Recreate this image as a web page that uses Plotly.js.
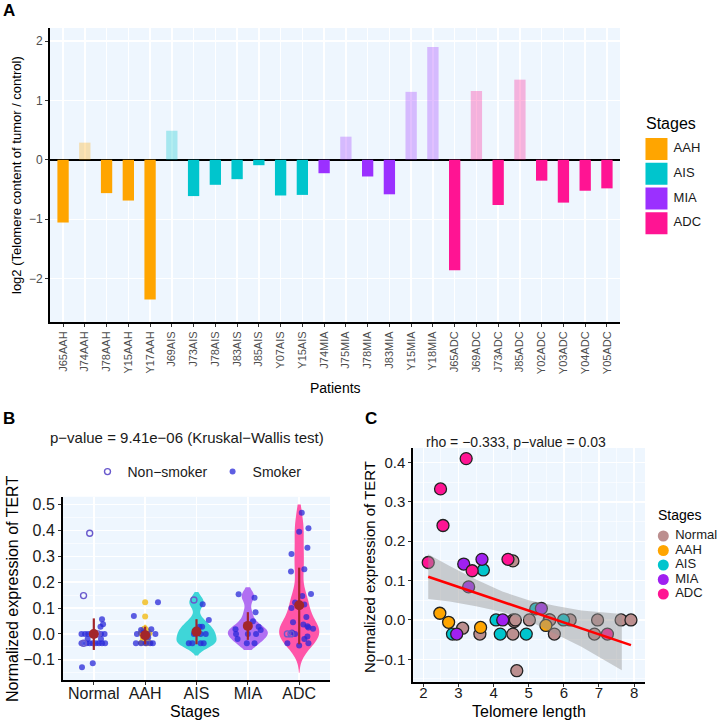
<!DOCTYPE html>
<html>
<head>
<meta charset="utf-8">
<script src="https://cdn.plot.ly/plotly-3.0.1.min.js"></script>
<style>
  body { margin: 0; background: #fff; }
  #plot { width: 720px; height: 724px; }
</style>
</head>
<body>
<div id="plot"></div>
<script>
// ---- Panel A: telomere content per patient ----
const patients = ['J65AAH','J74AAH','J78AAH','Y15AAH','Y17AAH','J69AIS','J73AIS','J78AIS','J83AIS','J85AIS',
  'Y07AIS','Y15AIS','J74MIA','J75MIA','J78MIA','J83MIA','Y15MIA','Y18MIA','J65ADC','J69ADC','J73ADC','J85ADC',
  'Y02ADC','Y03ADC','Y04ADC','Y05ADC'];
const log2Ratio = [-1.055, 0.29, -0.56, -0.685, -2.35, 0.49, -0.61, -0.42, -0.325, -0.09,
  -0.60, -0.59, -0.225, 0.39, -0.28, -0.58, 1.145, 1.90, -1.86, 1.16, -0.76, 1.35,
  -0.35, -0.72, -0.52, -0.48];
const stagesA = ['AAH', 'AIS', 'MIA', 'ADC'];

// ---- Panel B: TERT expression per stage (stage index, jitter, value, smoker/non-smoker/other) ----
const stagesB = ['Normal', 'AAH', 'AIS', 'MIA', 'ADC'];
const bStage = [0,0,0,0, 0,0,0,0,0, 0,0,0,0,0,0,0, 0,0,0,0,0,0,0,0, 0,0,
  1,1,1,1,1,1,1,1,1,1,1,1,1,1, 1,1,1,1,1,1,
  2,2,2,2,2,2,2,2,2,2,2,2,
  3,3,3,3,3,3,3,3,3,3,3,3,3,
  4,4,4,4,4,4,4,4,4,4,4,4,4,4,4,4,4,4,4,4,4,4,4,4,4,4,4,4,4];
const bJitter = [-0.08,-0.2,0.08,-0.2, 0.16,0.18,0.13,-0.23,-0.02, -0.24,-0.17,-0.11,-0.05,0.02,0.14,0.21,
  -0.24,-0.14,-0.08,-0.02,0.04,0.1,0.16,0.22, -0.12,0.14,
  0.25,-0.22,0.12,-0.08,-0.16,0.2,0.05,0.06,-0.18,-0.08,0.01,0.1,0.15,-0.03, 0,0,-0.02,0.02,-0.04,0.03,
  -0.05,0.12,0.24,0.06,0.11,0.08,0.18,-0.15,-0.08,0.08,0.14,-0.05,
  -0.18,0.13,0.15,0.1,0.21,0.25,-0.24,-0.23,0,0.16,-0.02,0.13,-0.2,
  0.05,0,0.18,0.16,-0.15,-0.16,0.1,0.23,0.06,-0.08,0.1,-0.15,0.14,-0.12,0.08,0.16,0.27,0.18,
  -0.23,-0.16,-0.08,-0.14,0.16,0.1,-0.23,0.18,0];
const bTert = [0.389,0.148,0.0,-0.036, 0.057,0.037,0.028,-0.129,-0.113, 0,0,0,0,0,0,0,
  -0.036,-0.036,-0.036,-0.036,-0.036,-0.036,-0.036,-0.036, -0.02,-0.02,
  0.122,0.069,0.018,0.015,0,0,0,-0.014,-0.036,-0.036,-0.036,-0.036,-0.036,0.005, 0.122,0.067,0.02,0,-0.02,-0.036,
  0.131,0.115,0.054,0.028,0.028,0,0,-0.036,-0.036,-0.036,-0.036,0,
  0.153,0.140,0.084,0.049,0.028,0.015,0.018,0,0,0,-0.036,-0.036,-0.02,
  0.468,0.395,0.408,0.333,0.309,0.241,0.250,0.154,0.146,0.121,0.114,0.10,0.065,0.045,0.036,0.03,0.02,0.025,
  0,0,0,0.005,-0.01,-0.02,-0.036,-0.036,-0.045];
const bSmoke = ['N','N','N','N', 'S','S','S','S','S', 'S','S','S','S','S','S','S',
  'S','S','S','S','S','S','S','S', 'S','S',
  'S','S','S','S','S','S','S','S','S','S','S','S','S','S', 'Y','Y','Y','Y','Y','Y',
  'N','S','S','S','S','S','S','S','S','S','S','S',
  'S','S','S','S','S','S','S','S','S','S','S','S','S',
  'S','S','S','S','S','S','S','S','S','S','S','S','S','S','S','S','S','S',
  'N','N','S','S','S','S','S','S','S'];
const bMean = [0.0, -0.005, 0.009, 0.031, 0.111];
const bLow = [-0.062, -0.04, -0.04, -0.023, -0.04];
const bHigh = [0.06, 0.028, 0.057, 0.084, 0.256];
const violinSpan = {AAH: [-0.045, 0.035], AIS: [-0.083, 0.162], MIA: [-0.062, 0.18], ADC: [-0.15, 0.50]};

// ---- Panel C: TERT vs telomere length ----
const cStage = ['ADC','ADC','ADC','ADC','ADC','ADC','ADC',
  'MIA','MIA','MIA','MIA','MIA','MIA',
  'AIS','AIS','AIS','AIS','AIS','AIS','AIS',
  'AAH','AAH','AAH','AAH',
  'Normal','Normal','Normal','Normal','Normal','Normal','Normal','Normal','Normal','Normal','Normal','Normal','Normal','Normal','Normal','Normal','Normal'];
const cTelomere = [2.14,2.49,2.56,3.22,3.39,4.41,7.24,
  3.15,3.67,3.29,2.95,4.26,5.36,
  3.71,2.83,4.07,4.19,4.93,5.20,5.99,
  2.47,2.72,3.63,5.49,
  4.55,3.12,3.61,4.56,4.59,4.55,5.02,5.58,5.60,5.73,6.18,6.96,6.87,7.63,7.91,4.66,4.62];
const cTert = [0.146,0.333,0.240,0.410,0.125,0.154,-0.036,
  0.142,0.154,0.084,-0.036,0.0,0.029,
  0.127,-0.036,0.0,-0.036,-0.036,0.028,0.0,
  0.017,-0.006,-0.019,-0.014,
  0.150,-0.021,-0.036,0.0,-0.004,-0.036,0.0,0.0,0.0,-0.036,0.0,0.0,-0.036,0.0,0.0,-0.129,0.0];
const stagesC = ['Normal', 'AAH', 'AIS', 'MIA', 'ADC'];
const fitX = [2.14, 7.91];
const fitY = [0.110, -0.064];
const bandX = [2.14, 2.75, 3.5, 4.25, 5.0, 5.75, 6.5, 7.65];
const bandLow = [0.053, 0.047, 0.035, 0.020, -0.002, -0.034, -0.068, -0.128];
const bandHigh = [0.167, 0.137, 0.103, 0.072, 0.050, 0.036, 0.024, 0.015];

// ---- helpers ----
const W = 720, H = 724;
const px = v => v / W;
const py = v => 1 - v / H;
const FONT = 'Liberation Sans, Arial, sans-serif';
const BG = '#EEF6FE';

const colA = {AAH: '#FFA500', AIS: '#00C5CD', MIA: '#9B30FF', ADC: '#FF1493'};
const violinFill = {AAH: '#F3C53A', AIS: '#3FD6D8', MIA: '#B16FF2', ADC: '#FF55A8'};
const colC = {Normal: '#BC8F8F', AAH: '#FFA500', AIS: '#00C5CD', MIA: '#A020F0', ADC: '#FF1493'};

const traces = [];

// A bars: full colour below zero, pale above zero
stagesA.forEach(st => {
  const idx = patients.map((p, i) => i).filter(i => patients[i].endsWith(st));
  const neg = idx.filter(i => log2Ratio[i] < 0);
  const pos = idx.filter(i => log2Ratio[i] >= 0);
  traces.push({
    type: 'bar', x: neg.map(i => patients[i]), y: neg.map(i => log2Ratio[i]),
    name: st, showlegend: false, width: 0.52,
    marker: {color: colA[st]}, xaxis: 'x', yaxis: 'y'
  });
  traces.push({
    type: 'bar', x: pos.map(i => patients[i]), y: pos.map(i => log2Ratio[i]),
    name: st, showlegend: false, width: 0.52,
    marker: {color: colA[st], opacity: 0.3}, xaxis: 'x', yaxis: 'y'
  });
});
// A legend keys (drawn on their own little axis)
traces.push({
  type: 'scatter', mode: 'markers', xaxis: 'x4', yaxis: 'y4', showlegend: false,
  x: stagesA.map(() => 0.206), y: stagesA.map((s, k) => k),
  marker: {symbol: 'square', size: 22, color: stagesA.map(s => colA[s])}
});
traces.push({
  type: 'scatter', mode: 'text', xaxis: 'x4', yaxis: 'y4', showlegend: false,
  x: stagesA.map(() => 0.42), y: stagesA.map((s, k) => k), text: stagesA,
  textposition: 'middle right', textfont: {family: FONT, size: 13, color: '#1A1A1A'}
});

// B violins
['AAH', 'AIS', 'MIA', 'ADC'].forEach(st => {
  const k = stagesB.indexOf(st);
  const vals = bTert.filter((v, i) => bStage[i] === k);
  traces.push({
    type: 'violin', x: vals.map(() => k), y: vals, xaxis: 'x2', yaxis: 'y2',
    showlegend: false, points: false, box: {visible: false}, meanline: {visible: false},
    fillcolor: violinFill[st], line: {width: 0, color: violinFill[st]},
    width: st === 'AAH' ? 0.3 : 0.78, scalemode: 'width',
    spanmode: 'manual', span: violinSpan[st],
    bandwidth: st === 'ADC' ? 0.045 : (st === 'AAH' ? 0.01 : 0.022),
    hoverinfo: 'skip'
  });
});

// B points
const pick = kind => bTert.map((v, i) => i).filter(i => bSmoke[i] === kind);
const yel = pick('Y');
traces.push({
  type: 'scatter', mode: 'markers', xaxis: 'x2', yaxis: 'y2', showlegend: false,
  x: yel.map(i => bStage[i] + bJitter[i]), y: yel.map(i => bTert[i]),
  marker: {size: 6, color: '#F2C230', opacity: 0.9}
});
const sm = pick('S');
traces.push({
  type: 'scatter', mode: 'markers', xaxis: 'x2', yaxis: 'y2', name: 'Smoker', legend: 'legend2', legendrank: 2,
  x: sm.map(i => bStage[i] + bJitter[i]), y: sm.map(i => bTert[i]),
  marker: {size: 6, color: '#2828D8', opacity: 0.75}
});
const ns = pick('N');
traces.push({
  type: 'scatter', mode: 'markers', xaxis: 'x2', yaxis: 'y2', name: 'Non\u2212smoker', legend: 'legend2', legendrank: 1,
  x: ns.map(i => bStage[i] + bJitter[i]), y: ns.map(i => bTert[i]),
  marker: {size: 6, symbol: 'circle-open', color: '#6A5ACD', line: {width: 1.4}}
});
// B mean + range
traces.push({
  type: 'scatter', mode: 'markers', xaxis: 'x2', yaxis: 'y2', showlegend: false,
  x: stagesB.map((s, k) => k), y: bMean,
  error_y: {type: 'data', symmetric: false,
    array: bHigh.map((h, k) => h - bMean[k]), arrayminus: bLow.map((l, k) => bMean[k] - l),
    color: '#A3262A', thickness: 2.2, width: 0},
  marker: {size: 10, color: '#A3262A'}
});

// C points
stagesC.forEach(st => {
  const idx = cStage.map((s, i) => i).filter(i => cStage[i] === st);
  traces.push({
    type: 'scatter', mode: 'markers', xaxis: 'x3', yaxis: 'y3', name: st, showlegend: false,
    x: idx.map(i => cTelomere[i]), y: idx.map(i => cTert[i]),
    marker: {size: 12, color: colC[st], line: {color: '#222', width: 1.3}}
  });
});
// C confidence band + fit line
traces.push({
  type: 'scatter', mode: 'lines', xaxis: 'x3', yaxis: 'y3', showlegend: false,
  x: bandX, y: bandLow, line: {width: 0, color: 'rgba(0,0,0,0)'}, hoverinfo: 'skip'
});
traces.push({
  type: 'scatter', mode: 'lines', xaxis: 'x3', yaxis: 'y3', showlegend: false,
  x: bandX, y: bandHigh, fill: 'tonexty', fillcolor: 'rgba(150,150,150,0.45)',
  line: {width: 0, color: 'rgba(0,0,0,0)'}, hoverinfo: 'skip'
});
traces.push({
  type: 'scatter', mode: 'lines', xaxis: 'x3', yaxis: 'y3', showlegend: false,
  x: fitX, y: fitY, line: {color: '#FF0000', width: 2.6}
});
// C legend keys
traces.push({
  type: 'scatter', mode: 'markers', xaxis: 'x5', yaxis: 'y5', showlegend: false,
  x: stagesC.map(() => 0.19), y: stagesC.map((s, k) => k),
  marker: {size: 11, color: stagesC.map(s => colC[s])}
});
traces.push({
  type: 'scatter', mode: 'text', xaxis: 'x5', yaxis: 'y5', showlegend: false,
  x: stagesC.map(() => 0.36), y: stagesC.map((s, k) => k), text: stagesC,
  textposition: 'middle right', textfont: {family: FONT, size: 13, color: '#1A1A1A'}
});

const baseAxis = {
  showline: true, linecolor: '#000', linewidth: 2, ticks: 'outside', ticklen: 3,
  tickcolor: '#333', tickwidth: 1, showgrid: true, gridcolor: '#FFFFFF', gridwidth: 1.4,
  zeroline: false, fixedrange: true
};
const minorGrid = {showgrid: true, gridcolor: 'rgba(255,255,255,0.8)', gridwidth: 0.7, ticks: ''};
const hiddenAxis = {visible: false, showgrid: false, zeroline: false, fixedrange: true};

const ann = (text, x, y, opts) => Object.assign({
  text, x: px(x), y: py(y), xref: 'paper', yref: 'paper', showarrow: false,
  xanchor: 'center', yanchor: 'middle', font: {family: FONT, size: 13, color: '#000'}
}, opts || {});
const panelBg = ax => ({
  type: 'rect', xref: ax[0] + ' domain', yref: ax[1] + ' domain', x0: 0, x1: 1, y0: 0, y1: 1,
  fillcolor: BG, line: {width: 0}, layer: 'below'
});

const layout = {
  width: W, height: H,
  margin: {l: 0, r: 0, t: 0, b: 0, autoexpand: false},
  paper_bgcolor: '#FFFFFF', plot_bgcolor: 'rgba(0,0,0,0)',
  font: {family: FONT, color: '#000'},
  barmode: 'overlay', violinmode: 'overlay',
  xaxis: Object.assign({}, baseAxis, {
    domain: [px(50), px(620)], anchor: 'y', type: 'category',
    categoryorder: 'array', categoryarray: patients, range: [-0.6, 25.6],
    tickangle: -90, tickfont: {size: 11, color: '#4D4D4D'}
  }),
  yaxis: Object.assign({}, baseAxis, {
    domain: [py(322), py(28)], anchor: 'x', range: [-2.73, 2.22], dtick: 1, tick0: 0,
    tickfont: {size: 12, color: '#4D4D4D'},
    zeroline: true, zerolinecolor: '#000', zerolinewidth: 2
  }),
  xaxis2: Object.assign({}, baseAxis, {
    domain: [px(63), px(330)], anchor: 'y2', range: [-0.6, 4.6],
    tickvals: [0, 1, 2, 3, 4], ticktext: stagesB, tickfont: {size: 16, color: '#1A1A1A'},
    ticklabelstandoff: -5
  }),
  yaxis2: Object.assign({}, baseAxis, {
    domain: [py(680), py(496.7)], anchor: 'x2', range: [-0.178, 0.53], dtick: 0.1, tick0: 0,
    tickformat: '.1f', tickfont: {size: 16, color: '#1A1A1A'},
    minor: Object.assign({dtick: 0.05}, minorGrid)
  }),
  xaxis3: Object.assign({}, baseAxis, {
    domain: [px(413.3), px(645)], anchor: 'y3', range: [1.715, 8.31], dtick: 1, tick0: 0,
    tickfont: {size: 15, color: '#1A1A1A'}, ticklabelstandoff: -7,
    minor: Object.assign({dtick: 0.5}, minorGrid)
  }),
  yaxis3: Object.assign({}, baseAxis, {
    domain: [py(681.7), py(448)], anchor: 'x3', range: [-0.157, 0.437], dtick: 0.1, tick0: 0,
    tickformat: '.1f', tickfont: {size: 15, color: '#1A1A1A'},
    minor: Object.assign({dtick: 0.05}, minorGrid)
  }),
  xaxis4: Object.assign({}, hiddenAxis, {domain: [px(640), px(720)], anchor: 'y4', range: [0, 1]}),
  yaxis4: Object.assign({}, hiddenAxis, {domain: [py(235.6), py(136.6)], anchor: 'x4', range: [3.5, -0.5]}),
  xaxis5: Object.assign({}, hiddenAxis, {domain: [px(650), px(720)], anchor: 'y5', range: [0, 1]}),
  yaxis5: Object.assign({}, hiddenAxis, {domain: [py(601.25), py(528.75)], anchor: 'x5', range: [4.5, -0.5]}),
  showlegend: true,
  legend2: {
    orientation: 'h', x: px(197), xanchor: 'center', y: py(472), yanchor: 'middle',
    font: {size: 14, color: '#1A1A1A'}, bgcolor: 'rgba(0,0,0,0)', traceorder: 'normal'
  },
  shapes: [
    panelBg(['x', 'y']), panelBg(['x2', 'y2']), panelBg(['x3', 'y3']),
    {
      type: 'line', xref: 'x2 domain', x0: 0, x1: 1, yref: 'y2', y0: 0, y1: 0,
      line: {color: '#A0A0A0', width: 1.4, dash: 'dash'}, layer: 'below'
    }
  ],
  annotations: [
    ann('<b>A</b>', 9, 11, {font: {family: FONT, size: 17, color: '#000'}}),
    ann('<b>B</b>', 9, 418, {font: {family: FONT, size: 17, color: '#000'}}),
    ann('<b>C</b>', 371, 418, {font: {family: FONT, size: 17, color: '#000'}}),
    ann('log2 (Telomere content of tumor / control)', 17, 175, {textangle: -90, font: {family: FONT, size: 13, color: '#000'}}),
    ann('Patients', 335, 388, {font: {family: FONT, size: 14, color: '#000'}}),
    ann('Stages', 644, 123, {xanchor: 'left', font: {family: FONT, size: 16, color: '#000'}}),
    ann('p\u2212value = 9.41e\u221206 (Kruskal\u2212Wallis test)', 187, 437, {font: {family: FONT, size: 15, color: '#1A1A1A'}}),
    ann('Normalized expression of TERT', 12, 589, {textangle: -90, font: {family: FONT, size: 16, color: '#000'}}),
    ann('Stages', 195, 711, {font: {family: FONT, size: 16, color: '#000'}}),
    ann('rho = \u22120.333, p\u2212value = 0.03', 516, 442, {font: {family: FONT, size: 14, color: '#1A1A1A'}}),
    ann('Normalized expression of TERT', 369, 567, {textangle: -90, font: {family: FONT, size: 15, color: '#000'}}),
    ann('Telomere length', 529, 711, {font: {family: FONT, size: 16, color: '#000'}}),
    ann('Stages', 656, 515, {xanchor: 'left', font: {family: FONT, size: 14, color: '#000'}})
  ]
};

Plotly.newPlot('plot', traces, layout, {displayModeBar: false, staticPlot: true});
</script>
</body>
</html>
